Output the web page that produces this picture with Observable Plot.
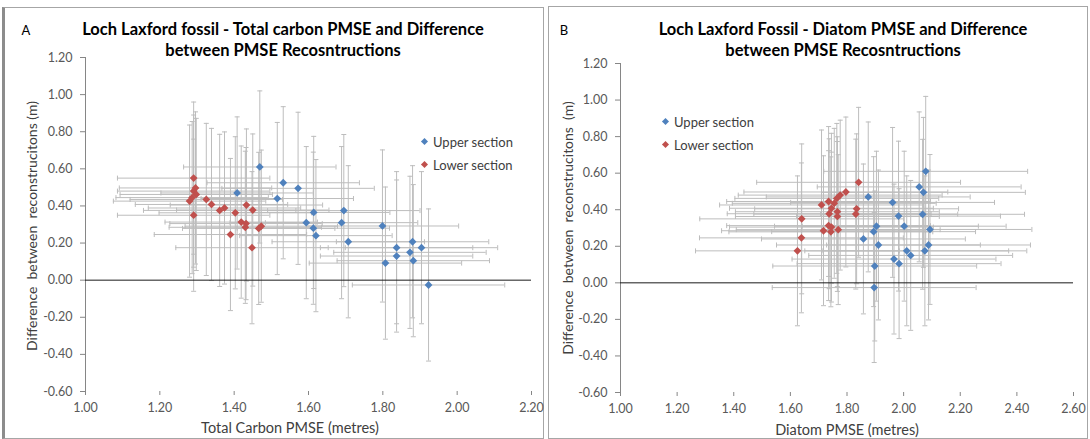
<!DOCTYPE html>
<html><head><meta charset="utf-8">
<script src="https://cdn.jsdelivr.net/npm/d3@7"></script>
<script src="https://cdn.jsdelivr.net/npm/@observablehq/plot@0.6"></script>
<style>
body{margin:0;background:#fff;font-family:Lato,"Open Sans",sans-serif;}
#wrap{position:relative;width:1090px;height:439px;overflow:hidden;background:#fff;}
.panel{position:absolute;top:0;width:545px;height:439px;}
.panel svg{position:absolute;left:0;top:0;}
.frame{position:absolute;box-sizing:border-box;border:1px solid #a6a6a6;}
.title{position:absolute;font-weight:bold;font-size:16.5px;color:#000;text-align:center;line-height:21px;white-space:nowrap;transform:translateX(-50%);}
.tag{position:absolute;font-size:13px;color:#000;transform:translate(-50%,-50%);}
.xt{position:absolute;font-size:14.5px;color:#404040;white-space:nowrap;transform:translate(-50%,-50%);}
.yt{position:absolute;font-size:14px;color:#404040;white-space:nowrap;transform:translate(-50%,-50%) rotate(-90deg);}
.leg{position:absolute;font-size:13px;color:#404040;white-space:nowrap;}
.leg div{height:23px;display:flex;align-items:center;}
.leg i{display:inline-block;width:5px;height:5px;transform:rotate(45deg);margin-right:6px;}
</style></head><body><div id="wrap"></div>
<script>
// ---- data ----
const seriesNames = ["Upper section", "Lower section"];
const seriesColors = ["#4f81bd", "#c0504d"];

const yTicks = [-0.6, -0.4, -0.2, 0, 0.2, 0.4, 0.6, 0.8, 1.0, 1.2];
const xTicksA = [1.0, 1.2, 1.4, 1.6, 1.8, 2.0, 2.2];
const xTicksB = [1.0, 1.2, 1.4, 1.6, 1.8, 2.0, 2.2, 2.4, 2.6];

// Upper section samples: difference between reconstructions (m), Total carbon PMSE, Diatom PMSE
const upperDiff   = [0.61, 0.525, 0.495, 0.47, 0.44, 0.375, 0.365, 0.31, 0.31, 0.292, 0.28, 0.24, 0.207, 0.207, 0.175, 0.175, 0.15, 0.13, 0.105, 0.092, -0.026];
const upperTC     = [1.469, 1.532, 1.572, 1.408, 1.516, 1.695, 1.614, 1.594, 1.689, 1.799, 1.613, 1.620, 1.707, 1.880, 1.837, 1.904, 1.873, 1.837, 1.882, 1.807, 1.923];
const upperDiatom = [2.078, 2.055, 2.070, 1.875, 1.961, 2.067, 1.982, 2.002, 1.904, 2.093, 1.894, 1.858, 1.911, 2.088, 2.011, 2.075, 2.025, 1.966, 1.984, 1.898, 1.896];

// Lower section samples
const lowerDiff   = [0.55, 0.497, 0.48, 0.462, 0.445, 0.435, 0.426, 0.408, 0.405, 0.389, 0.378, 0.376, 0.363, 0.35, 0.313, 0.305, 0.291, 0.285, 0.279, 0.246, 0.175];
const lowerTC     = [1.291, 1.296, 1.291, 1.298, 1.287, 1.325, 1.280, 1.339, 1.433, 1.374, 1.450, 1.361, 1.403, 1.291, 1.419, 1.432, 1.473, 1.430, 1.466, 1.390, 1.448];
const lowerDiatom = [1.841, 1.796, 1.776, 1.764, 1.735, 1.755, 1.710, 1.745, 1.834, 1.766, 1.737, 1.831, 1.766, 1.640, 1.735, 1.745, 1.769, 1.717, 1.743, 1.639, 1.625];

// error bar half-widths
const diffErr = 0.41;
const tcErr = 0.205;
const diatomErr = 0.36;

// ---- build rows ----
function rows(xs, ys, series) { return xs.map((x, i) => ({x, y: ys[i], series})); }
const rowsA = [...rows(upperTC, upperDiff, seriesNames[0]), ...rows(lowerTC, lowerDiff, seriesNames[1])];
const rowsB = [...rows(upperDiatom, upperDiff, seriesNames[0]), ...rows(lowerDiatom, lowerDiff, seriesNames[1])];

const capH = {draw(ctx, size) { const r = Math.sqrt(size / Math.PI); ctx.moveTo(-r, 0); ctx.lineTo(r, 0); }};
const capV = {draw(ctx, size) { const r = Math.sqrt(size / Math.PI); ctx.moveTo(0, -r); ctx.lineTo(0, r); }};
const fmt = d => d.toFixed(2);
const barColor = "#bdbdbd";

function chart(data, xDomain, xTicks, xErr, m) {
  return Plot.plot({
    width: 545, height: 439,
    marginLeft: m.l, marginRight: m.r, marginTop: m.t, marginBottom: m.b,
    style: {fontFamily: "Lato, 'Open Sans', sans-serif", fontSize: "12.5px", background: "transparent", overflow: "visible"},
    x: {domain: xDomain},
    y: {domain: [-0.6, 1.2]},
    color: {domain: seriesNames, range: seriesColors},
    marks: [
      Plot.frame({anchor: "left", stroke: "#868686"}),
      Plot.axisY(yTicks, {tickSize: 5, tickPadding: 8, tickFormat: fmt, stroke: "#868686", fill: "#595959", label: null}),
      Plot.axisX(xTicks, {tickSize: 4, tickPadding: 8, tickFormat: fmt, stroke: "#868686", fill: "#595959", label: null}),
      // vertical error bars
      Plot.ruleX(data, {x: "x", y1: d => d.y - diffErr, y2: d => d.y + diffErr, stroke: barColor, strokeWidth: 1}),
      Plot.dot(data, {x: "x", y: d => d.y + diffErr, symbol: capH, r: 2.5, stroke: barColor, fill: "none", strokeWidth: 1}),
      Plot.dot(data, {x: "x", y: d => d.y - diffErr, symbol: capH, r: 2.5, stroke: barColor, fill: "none", strokeWidth: 1}),
      // horizontal error bars
      Plot.ruleY(data, {y: "y", x1: d => d.x - xErr, x2: d => d.x + xErr, stroke: barColor, strokeWidth: 1}),
      Plot.dot(data, {x: d => d.x - xErr, y: "y", symbol: capV, r: 2.5, stroke: barColor, fill: "none", strokeWidth: 1}),
      Plot.dot(data, {x: d => d.x + xErr, y: "y", symbol: capV, r: 2.5, stroke: barColor, fill: "none", strokeWidth: 1}),
      Plot.ruleY([0], {stroke: "#1a1a1a", strokeWidth: 1}),
      Plot.dot(data, {x: "x", y: "y", symbol: "diamond2", r: 3.5, fill: "series", stroke: "none"})
    ]
  });
}

const wrap = document.getElementById("wrap");
function el(cls, html, css) { const d = document.createElement("div"); d.className = cls; d.innerHTML = html; Object.assign(d.style, css); wrap.appendChild(d); return d; }

// frames
el("frame", "", {left: "2px", top: "7px", width: "542px", height: "432px", borderLeft: "3px solid #8c8c8c"});
el("frame", "", {left: "548px", top: "6px", width: "540px", height: "433px"});

// panel A
const pA = el("panel", "", {left: "0px"});
pA.appendChild(chart(rowsA, [1, 2.2], xTicksA, tcErr, {l: 85, r: 14, t: 57, b: 48}));
// panel B
const pB = el("panel", "", {left: "545px"});
pB.appendChild(chart(rowsB, [1, 2.6], xTicksB, diatomErr, {l: 75, r: 17, t: 63, b: 47}));

// titles
el("title", "Loch Laxford fossil - Total carbon PMSE and Difference<br>between PMSE Recosntructions", {left: "283px", top: "19px"});
el("title", "Loch Laxford Fossil - Diatom PMSE and Difference<br>between PMSE Recosntructions", {left: "843px", top: "19px"});
el("tag", "A", {left: "26px", top: "30px"});
el("tag", "B", {left: "564px", top: "30px"});

// axis titles
el("xt", "Total Carbon PMSE (metres)", {left: "290px", top: "427px"});
el("xt", "Diatom PMSE (metres)", {left: "847px", top: "429px"});
el("yt", "Difference&nbsp; between&nbsp; reconstrucitons (m)", {left: "31px", top: "226px"});
el("yt", "Difference&nbsp; between&nbsp; reconstrucitons&nbsp; (m)", {left: "567px", top: "228px"});

// legends
function legend(x, y) {
  const html = seriesNames.map((n, i) => `<div><i style="background:${seriesColors[i]}"></i>${n}</div>`).join("");
  el("leg", html, {left: x + "px", top: y + "px"});
}
legend(422, 130);
legend(663, 110);
</script></body></html>
